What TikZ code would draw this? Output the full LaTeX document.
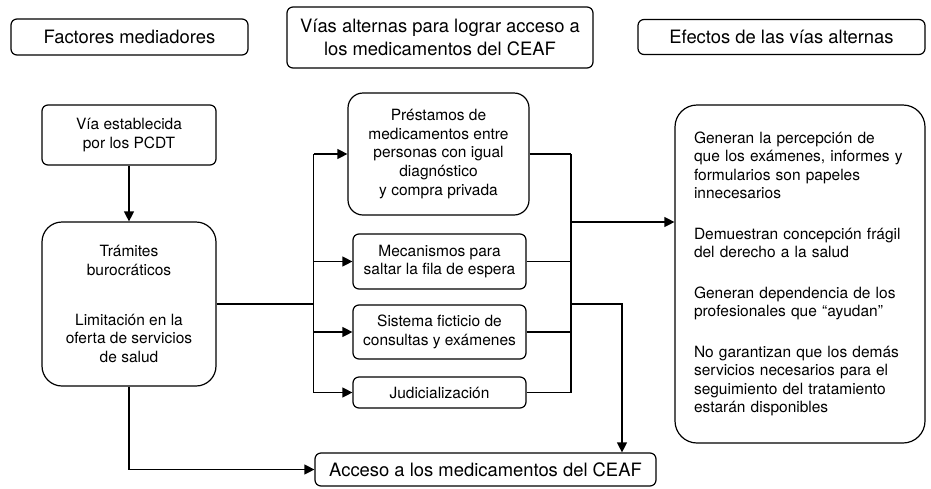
\documentclass[tikz,border=0pt]{standalone}
\usepackage{fontspec}
\setmainfont{TeX Gyre Heros}
\usetikzlibrary{arrows.meta}

\tikzset{
	caja/.style={draw, line width=1.2pt, rounded corners=6pt, align=center, inner sep=0pt,
		font=\fontsize{15.5}{18.8}\selectfont},
	titulo/.style={caja, font=\fontsize{18.4}{23}\selectfont},
	linea/.style={line width=1.2pt},
	flecha/.style={linea, -{Triangle[length=10pt,width=10pt]}},
}

\begin{document}
\begin{tikzpicture}[x=1pt, y=-1pt]
			\def\cw{173}
			\useasboundingbox (0,0) rectangle (931,488);
			
			\node[titulo, minimum width=237pt, minimum height=36pt] (fac) at (129.5,37) {Factores mediadores};
			\node[titulo, minimum width=306pt, minimum height=61pt] (vias) at (440,37.5) {V\'ias alternas para lograr acceso a\\los medicamentos del CEAF};
			\node[titulo, minimum width=287pt, minimum height=35pt] (efe) at (781.5,37) {Efectos de las v\'ias alternas};
			
			\node[caja, minimum width=174pt, minimum height=60pt] (via) at (129,135) {V\'ia establecida\\por los PCDT};
			\node[caja, rounded corners=20pt, minimum width=174pt, minimum height=164pt] (tram) at (129,304)
				{Tr\'amites\\burocr\'aticos\\[31pt]Limitaci\'on en la\\oferta de servicios\\de salud};
			
			\node[caja, rounded corners=15pt, minimum width=181pt, minimum height=122pt] (pres) at (438.5,154)
				{Pr\'estamos de\\medicamentos entre\\personas con igual\\diagn\'ostico\\y compra privada};
			\node[caja, minimum width=\cw pt, minimum height=55pt] (mec) at (439.5,261.5) {Mecanismos para\\saltar la fila de espera};
			\node[caja, minimum width=\cw pt, minimum height=54pt] (sis) at (439.5,332) {Sistema ficticio de\\consultas y ex\'amenes};
			\node[caja, minimum width=\cw pt, minimum height=31pt] (jud) at (439.5,392.5) {Judicializaci\'on};
			
			\node[titulo, minimum width=341pt, minimum height=33pt] (acc) at (485.5,469.5) {Acceso a los medicamentos del CEAF};
			
			\node[caja, rounded corners=22pt, align=left, minimum width=250pt, minimum height=338pt, text width=212pt,
				font=\fontsize{15.5}{18.5}\selectfont] (eff) at (800,274)
				{Generan la percepci\'on de\\que los ex\'amenes, informes y\\formularios son papeles\\innecesarios\\[22pt]%
				Demuestran concepci\'on fr\'agil\\del derecho a la salud\\[22pt]%
				Generan dependencia de los\\profesionales que ``ayudan''\\[22pt]%
				No garantizan que los dem\'as\\servicios necesarios para el\\seguimiento del tratamiento\\estar\'an disponibles};
			
			\draw[flecha] (via) -- (tram);
			\draw[flecha] (tram.south) |- (acc.west);
			
			\draw[linea] (tram.east) -- ++(97,0) coordinate (bi);
			\draw[linea] (bi |- pres.west) -- (bi |- jud.west);
			\foreach \n in {pres, mec, sis, jud}
				\draw[flecha] (bi |- \n.west) -- (\n.west);
			
			\coordinate (bd) at (571,222);
			\coordinate (bd2) at (571,304);
			\foreach \n in {pres, mec, sis, jud}
				\draw[linea] (\n.east) -- (bd |- \n.east);
			\draw[linea] (bd |- pres.east) -- (bd |- jud.east);
			\draw[flecha] (bd) -- (eff.west |- bd);
			\draw[flecha] (bd2) -| ([xshift=136.5pt]acc.north);
		\end{tikzpicture}
\end{document}
